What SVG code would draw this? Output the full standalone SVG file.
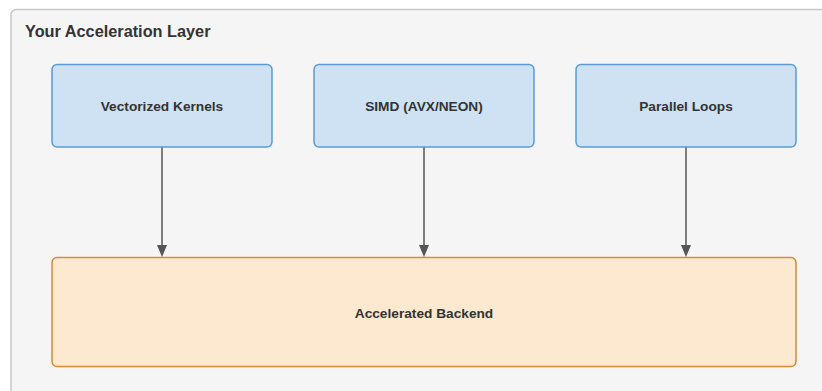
<svg xmlns="http://www.w3.org/2000/svg" width="822" height="391" viewBox="0 0 822 391">
  <style>
    .label { font-family: "Liberation Sans", Arial, sans-serif; font-weight: bold; fill: #333333; }
    .node-label { font-size: 13.7px; text-anchor: middle; }
    .node { fill: #cfe2f3; stroke: #5b9bd5; stroke-width: 1.5; }
    .backend { fill: #fce9cf; stroke: #d68a3a; stroke-width: 1.5; }
    .edge { stroke: #555555; stroke-width: 1.5; fill: none; }
    .head { fill: #555555; }
  </style>

  <rect x="0" y="0" width="822" height="391" fill="#ffffff"/>

  <!-- cluster -->
  <g id="cluster">
    <rect x="11" y="9.5" width="830" height="400" rx="5" fill="#f5f5f5" stroke="#c8c8c8" stroke-width="1.5"/>
    <text class="label" x="25" y="37" font-size="16.3">Your Acceleration Layer</text>
  </g>

  <!-- connectors -->
  <g id="connectors">
    <line class="edge" x1="162" y1="147" x2="162" y2="245"/>
    <path class="head" d="M157,245 L167,245 L162,257 Z"/>
    <line class="edge" x1="424" y1="147" x2="424" y2="245"/>
    <path class="head" d="M419,245 L429,245 L424,257 Z"/>
    <line class="edge" x1="686" y1="147" x2="686" y2="245"/>
    <path class="head" d="M681,245 L691,245 L686,257 Z"/>
  </g>

  <g id="vectorized-kernels">
    <rect class="node" x="52" y="64.5" width="220" height="82.5" rx="5"/>
    <text class="label node-label" x="162" y="111">Vectorized Kernels</text>
  </g>

  <g id="simd">
    <rect class="node" x="314" y="64.5" width="220" height="82.5" rx="5"/>
    <text class="label node-label" x="424" y="111">SIMD (AVX/NEON)</text>
  </g>

  <g id="parallel-loops">
    <rect class="node" x="576" y="64.5" width="220" height="82.5" rx="5"/>
    <text class="label node-label" x="686" y="111">Parallel Loops</text>
  </g>

  <g id="accelerated-backend">
    <rect class="backend" x="52" y="257.5" width="744" height="109" rx="5"/>
    <text class="label node-label" x="424" y="318">Accelerated Backend</text>
  </g>
</svg>
